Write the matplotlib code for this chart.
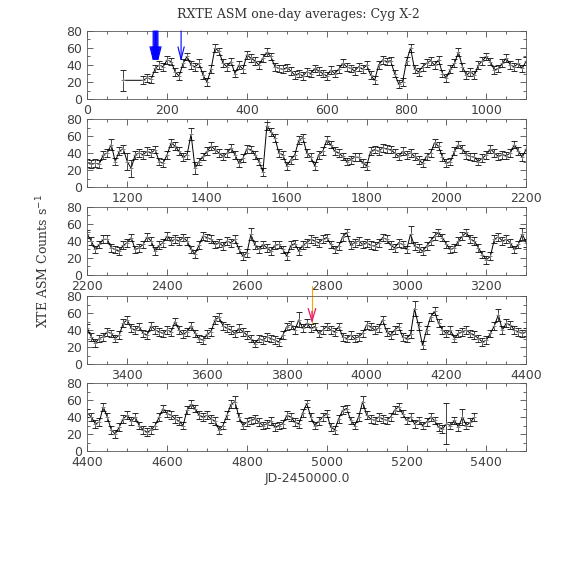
#RXTE ASM one-day averages of Cyg X-2, five stacked panels

import numpy as np
import matplotlib
matplotlib.use('Agg')
import matplotlib.pyplot as plt
from matplotlib.ticker import MultipleLocator

#Count rates, one value every 10 days
days1 = [90] + list(range(140, 1101, 10))
rate1 = [22,
         22, 25, 23, 36, 40, 38, 46, 44, 32, 27,
         42, 50, 40, 38, 42, 28, 20, 35, 60, 56,
         42, 38, 44, 30, 40, 35, 52, 48, 45, 40,
         48, 55, 50, 38, 36, 35, 37, 33, 28, 30,
         27, 32, 30, 36, 33, 30, 27, 34, 30, 35,
         42, 38, 36, 33, 38, 35, 40, 28, 22, 40,
         46, 44, 45, 30, 18, 20, 45, 60, 35, 32,
         38, 42, 45, 40, 46, 30, 25, 35, 42, 55,
         38, 28, 32, 28, 40, 45, 50, 44, 34, 36,
         42, 48, 40, 38, 42, 36, 45]

days2 = list(range(1100, 2201, 10))
rate2 = [28, 27, 28, 27, 38, 40, 50, 30, 42, 45,
         30, 22, 38, 40, 38, 42, 40, 44, 30, 28,
         38, 52, 48, 42, 35, 38, 62, 22, 30, 36,
         42, 48, 44, 40, 36, 40, 46, 38, 28, 34,
         45, 44, 38, 30, 18, 72, 65, 58, 40, 38,
         25, 32, 38, 55, 58, 40, 35, 25, 38, 42,
         55, 50, 42, 40, 36, 30, 32, 35, 35, 28,
         25, 42, 44, 42, 46, 45, 44, 40, 36, 42,
         38, 40, 36, 32, 28, 36, 40, 52, 48, 35,
         28, 30, 42, 50, 45, 38, 36, 35, 30, 34,
         38, 45, 40, 36, 38, 37, 40, 50, 42, 35,
         45]

days3 = list(range(2200, 3301, 10))
rate3 = [48, 40, 30, 36, 42, 42, 32, 30, 28, 35,
         38, 44, 30, 32, 36, 45, 40, 28, 35, 38,
         46, 40, 42, 40, 44, 40, 30, 25, 35, 46,
         44, 42, 36, 38, 34, 40, 38, 42, 30, 22,
         26, 48, 35, 30, 36, 32, 28, 35, 36, 30,
         22, 35, 37, 28, 35, 38, 42, 40, 38, 42,
         44, 36, 30, 34, 45, 50, 35, 38, 40, 36,
         38, 35, 34, 38, 44, 42, 35, 32, 38, 36,
         30, 48, 34, 32, 28, 34, 40, 46, 50, 44,
         36, 30, 32, 40, 46, 50, 42, 40, 32, 24,
         18, 22, 42, 45, 40, 42, 38, 30, 36, 48,
         38]

days4 = list(range(3300, 4401, 10))
rate4 = [42, 32, 25, 30, 32, 38, 36, 30, 34, 48,
         52, 42, 40, 44, 36, 34, 45, 40, 38, 36,
         40, 38, 50, 40, 35, 38, 45, 36, 30, 28,
         35, 38, 52, 55, 45, 42, 40, 36, 42, 38,
         34, 30, 24, 30, 28, 32, 30, 28, 26, 34,
         44, 46, 40, 52, 42, 48, 42, 44, 36, 40,
         44, 40, 38, 44, 32, 30, 34, 30, 32, 36,
         46, 44, 40, 42, 52, 38, 34, 40, 44, 32,
         30, 35, 65, 45, 22, 40, 55, 62, 48, 40,
         36, 40, 30, 36, 38, 40, 36, 34, 30, 26,
         28, 36, 45, 58, 40, 48, 46, 40, 38, 36,
         38]

days5 = list(range(4400, 5371, 10))
rate5 = [45, 40, 32, 34, 52, 40, 25, 20, 28, 38,
         42, 35, 40, 30, 25, 22, 25, 30, 40, 50,
         44, 42, 38, 35, 30, 48, 55, 50, 42, 40,
         42, 38, 35, 25, 30, 42, 55, 58, 40, 30,
         34, 36, 38, 34, 30, 32, 35, 28, 30, 32,
         42, 40, 34, 32, 45, 56, 40, 30, 35, 40,
         44, 28, 25, 38, 48, 50, 36, 30, 40, 58,
         42, 38, 36, 40, 38, 36, 40, 48, 52, 44,
         36, 40, 32, 36, 30, 34, 40, 36, 28, 26,
         32, 30, 36, 28, 40, 30, 34, 40]

#Typical error and the days with larger error bars
typical_err = 4.5
large_err = {90: 12, 1200: 10, 1210: 10, 1160: 7, 1360: 7, 1370: 7,
             2610: 7, 3010: 10, 3290: 7, 3830: 9, 4120: 9, 4330: 7,
             4770: 7, 5090: 7, 5300: 24, 5340: 9}

#Observation marks (blue and red arrows)
blue_days = [165, 167, 169, 171, 173, 175, 177, 235]
blue_tip = 44
red_day = 3863
red_tip = 48

panels = [(days1, rate1, 0, 1100), (days2, rate2, 1100, 2200),
          (days3, rate3, 2200, 3300), (days4, rate4, 3300, 4400),
          (days5, rate5, 4400, 5500)]
bottoms_px = [99, 187, 275, 364, 451]

plt.rcParams['font.family'] = 'DejaVu Sans'
plt.rcParams['font.size'] = 9

fig = plt.figure(figsize=(5.74, 5.74), dpi=100)
W = 574.0

axes = []
for (days, rate, x0, x1), b in zip(panels, bottoms_px):
    ax = fig.add_axes([87.3 / W, 1 - b / W, 439 / W, 68 / W])
    err = [large_err.get(d, typical_err) for d in days]
    ax.errorbar(days, rate, yerr=err, fmt='-', color='black', lw=0.7,
                elinewidth=0.6, ecolor='0.15', capsize=2, capthick=0.6,
                marker='+', ms=3, mec='0.5', mew=0.7)
    ax.set_xlim(x0, x1)
    ax.set_ylim(0, 80)
    ax.xaxis.set_major_locator(MultipleLocator(200))
    ax.xaxis.set_minor_locator(MultipleLocator(50))
    ax.yaxis.set_major_locator(MultipleLocator(20))
    ax.yaxis.set_minor_locator(MultipleLocator(10))
    ax.tick_params(which='both', direction='in', top=True, right=True,
                   width=0.6, colors='0.3', labelcolor='0.25', labelsize=9)
    ax.tick_params(which='major', length=4)
    ax.tick_params(which='minor', length=2)
    for s in ax.spines.values():
        s.set_linewidth(0.6)
        s.set_color('0.35')
    axes.append(ax)

# blue arrows in the first panel
for d in blue_days:
    axes[0].annotate('', xy=(d, blue_tip), xytext=(d, 80),
                     arrowprops=dict(arrowstyle='->,head_length=1.0,head_width=0.25',
                                     color='blue', lw=0.8, shrinkA=0, shrinkB=0))

# orange / red arrow in the fourth panel
axes[3].annotate('', xy=(red_day, red_tip), xytext=(red_day, 62),
                 arrowprops=dict(arrowstyle='->,head_length=1.0,head_width=0.3',
                                 color='#e8186a', lw=0.9, shrinkA=0, shrinkB=0))
axes[3].plot([red_day, red_day], [92, red_tip], color='orange', lw=0.8, clip_on=False)

fig.text(0.52, 0.974, 'RXTE ASM one-day averages: Cyg X-2', ha='center', va='center',
         family='DejaVu Serif', fontsize=9, color='0.2')
fig.text(0.075, 0.545, 'XTE ASM Counts s$^{-1}$', ha='center', va='center', rotation=90,
         family='DejaVu Serif', fontsize=9, color='0.2')
fig.text(0.535, 0.167, 'JD-2450000.0', ha='center', va='center', fontsize=9, color='0.25')

plt.savefig('out.png', dpi=100)
